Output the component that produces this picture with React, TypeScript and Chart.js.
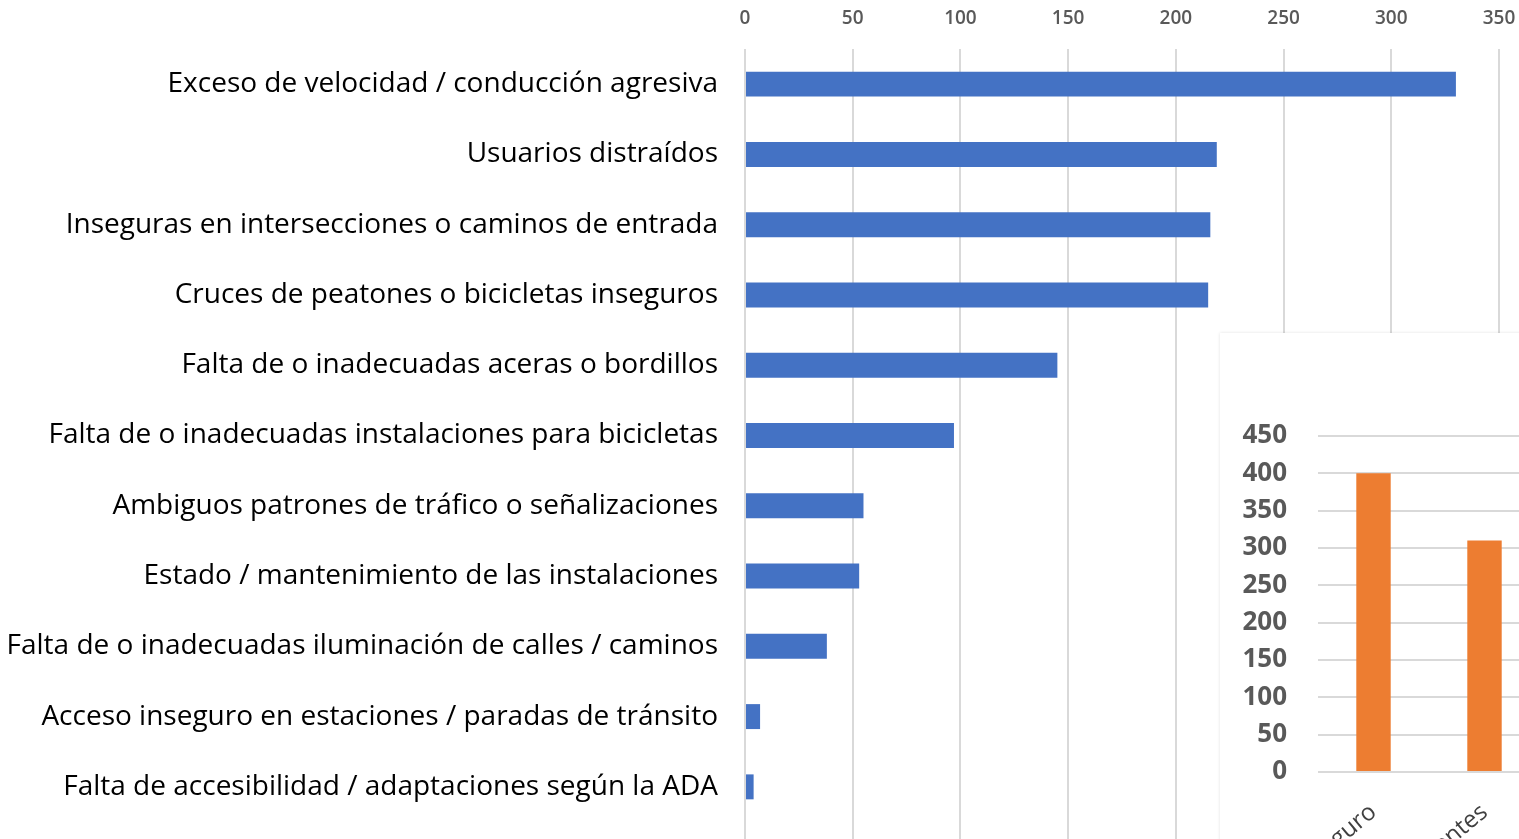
import React, { useEffect, useRef } from "react";
import { Chart, registerables } from "chart.js";

Chart.register(...registerables);

const categories = [
  "Exceso de velocidad / conducción agresiva",
  "Usuarios distraídos",
  "Inseguras en intersecciones o caminos de entrada",
  "Cruces de peatones o bicicletas inseguros",
  "Falta de o inadecuadas aceras o bordillos",
  "Falta de o inadecuadas instalaciones para bicicletas",
  "Ambiguos patrones de tráfico o señalizaciones",
  "Estado / mantenimiento de las instalaciones",
  "Falta de o inadecuadas iluminación de calles / caminos",
  "Acceso inseguro en estaciones / paradas de tránsito",
  "Falta de accesibilidad / adaptaciones según la ADA",
];
const values = [330, 219, 216, 215, 145, 97, 55, 53, 38, 7, 4];
const xTickMin = 0;
const xTickMax = 350;
const xTickStep = 50;

const insetCategories = ["Inseguro", "Inconvenientes"];
const insetValues = [400, 310];
const insetTickMax = 450;
const insetTickStep = 50;

const GRID = "#d9d9d9";

const extendGrid = {
  id: "extendGrid",
  beforeDatasetsDraw(chart: any) {
    const { ctx, chartArea } = chart;
    const x = chart.scales.x;
    ctx.save();
    ctx.strokeStyle = GRID;
    ctx.lineWidth = 2;
    x.ticks.forEach((t: any) => {
      const px = Math.round(x.getPixelForValue(t.value));
      ctx.beginPath();
      ctx.moveTo(px, chartArea.bottom);
      ctx.lineTo(px, chart.height);
      ctx.stroke();
    });
    ctx.restore();
  },
};

export default function App() {
  const mainRef = useRef<HTMLCanvasElement>(null);
  const insetRef = useRef<HTMLCanvasElement>(null);

  useEffect(() => {
    const main = new Chart(mainRef.current!, {
      type: "bar",
      data: {
        labels: categories,
        datasets: [
          {
            data: values,
            backgroundColor: "#4472C4",
            categoryPercentage: 1,
            barPercentage: 0.355,
          },
        ],
      },
      options: {
        indexAxis: "y",
        animation: false,
        responsive: true,
        maintainAspectRatio: false,
        layout: { padding: { top: 0, right: 20, bottom: 17, left: 0 } },
        plugins: { legend: { display: false }, tooltip: { enabled: false } },
        scales: {
          x: {
            position: "top",
            min: xTickMin,
            max: xTickMax,
            ticks: {
              stepSize: xTickStep,
              padding: 19,
              color: "#595959",
              font: { family: "'Open Sans'", size: 19, weight: 600 },
            },
            grid: { color: GRID, lineWidth: 2, drawTicks: false },
            border: { display: false },
            afterFit: (s: any) => {
              s.height = 49;
              s.paddingLeft = 0;
              s.paddingRight = 0;
            },
          },
          y: {
            ticks: {
              autoSkip: false,
              padding: 27,
              color: "#000000",
              font: { family: "'Open Sans'", size: 28 },
            },
            grid: { display: false, drawTicks: false },
            border: { display: false },
            afterFit: (s: any) => {
              s.width = 745;
              s.paddingTop = 0;
              s.paddingBottom = 0;
            },
          },
        },
      },
      plugins: [extendGrid],
    });

    const inset = new Chart(insetRef.current!, {
      type: "bar",
      data: {
        labels: insetCategories,
        datasets: [
          {
            data: insetValues,
            backgroundColor: "#ED7D31",
            categoryPercentage: 1,
            barPercentage: 0.31,
          },
        ],
      },
      options: {
        animation: false,
        responsive: true,
        maintainAspectRatio: false,
        layout: { padding: { top: 103, right: 10, bottom: 0, left: 0 } },
        plugins: { legend: { display: false }, tooltip: { enabled: false } },
        scales: {
          x: {
            ticks: {
              minRotation: 40,
              maxRotation: 40,
              padding: 26,
              color: "#404040",
              font: { family: "'Open Sans'", size: 24 },
            },
            grid: { display: false, drawTicks: false },
            border: { display: false },
            afterFit: (s: any) => {
              s.height = 121;
              s.paddingLeft = 0;
              s.paddingRight = 0;
            },
          },
          y: {
            min: 0,
            max: insetTickMax,
            ticks: {
              stepSize: insetTickStep,
              padding: 31,
              color: "#595959",
              font: { family: "'Open Sans'", size: 26, weight: 700 },
            },
            grid: { color: GRID, lineWidth: 2, drawTicks: false },
            border: { display: false },
            afterFit: (s: any) => {
              s.width = 98;
              s.paddingTop = 0;
              s.paddingBottom = 0;
            },
          },
        },
      },
    });

    return () => {
      main.destroy();
      inset.destroy();
    };
  }, []);

  return (
    <div
      style={{
        position: "fixed",
        left: 0,
        top: 0,
        width: 1519,
        height: 839,
        overflow: "hidden",
        background: "#ffffff",
      }}
    >
      <div style={{ position: "absolute", left: 0, top: 0, width: 1519, height: 839 }}>
        <canvas ref={mainRef} />
      </div>
      <div
        style={{
          position: "absolute",
          left: 1220,
          top: 333,
          width: 330,
          height: 560,
          background: "#ffffff",
          boxShadow: "0 0 3px rgba(0,0,0,0.12)",
        }}
      >
        <div style={{ position: "absolute", left: 0, top: 0, width: 330, height: 560 }}>
          <canvas ref={insetRef} />
        </div>
      </div>
    </div>
  );
}
